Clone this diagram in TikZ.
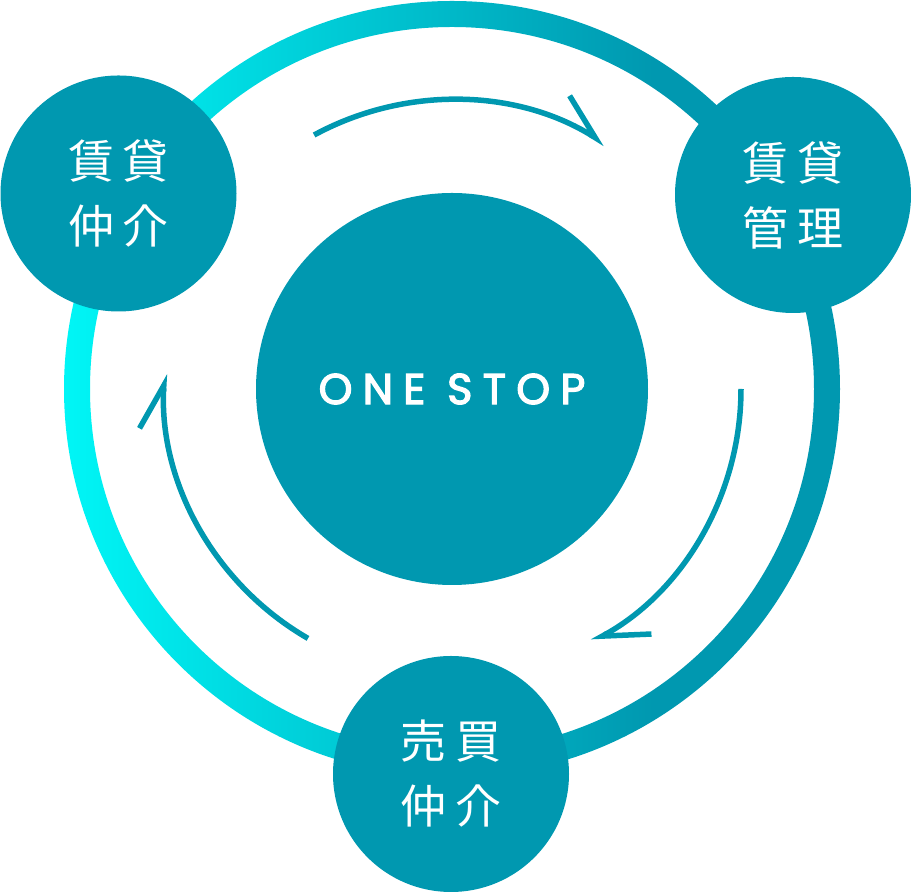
\documentclass[tikz,border=0pt]{standalone}
\usepackage{fontspec}
\newfontfamily\jpfont{Noto Sans CJK JP}
\newfontfamily\hubfont[LetterSpace=24]{Poppins}
\usetikzlibrary{arrows.meta}

\definecolor{osTeal}{RGB}{0,152,176}
\definecolor{osCyan}{RGB}{0,246,246}
\pgfdeclarehorizontalshading{ringshade}{100bp}{color(0bp)=(osCyan); color(25bp)=(osCyan); color(63bp)=(osTeal); color(100bp)=(osTeal)}

\begin{document}
\begin{tikzpicture}[x=1pt,y=1pt,
    ring/.style={shading=ringshade,even odd rule},
    hub/.style={circle,fill=osTeal,minimum size=392pt,inner sep=0pt,text=white,font=\hubfont\addfontfeature{FakeBold=3}\fontsize{43}{43}\selectfont},
    unit/.style={circle,fill=osTeal,minimum size=236pt,inner sep=0pt,text=white,align=center,font=\jpfont\fontsize{46}{65}\selectfont},
    flow/.style={osTeal,line width=5.5pt,-{Straight Barb[left,length=44pt,width=44pt]}}]
  \useasboundingbox (0,0) rectangle (911,893);
  \coordinate (c) at (452,504);
  % outer ring
  \shade[ring] (c) circle[radius=388] (c) circle[radius=362];
  % hub and the three services
  \node[hub] (hub) at (c) {ONE STOP};
  \node[unit] (chintai) at (118.5,699.5) {賃\kern9pt 貸\\仲\kern9pt 介};
  \node[unit] (kanri) at (793,698) {賃\kern9pt 貸\\管\kern9pt 理};
  \node[unit] (baibai) at (451,119) {売\kern9pt 買\\仲\kern9pt 介};
  % cycle arrows
  \draw[flow] ([shift={(118.5:289)}]c) arc[start angle=118.5,end angle=58,radius=289];
  \draw[flow] ([shift={(0:289)}]c) arc[start angle=0,end angle=-61,radius=289];
  \draw[flow] ([shift={(240:288)}]c) arc[start angle=240,end angle=177,radius=288];
\end{tikzpicture}
\end{document}
